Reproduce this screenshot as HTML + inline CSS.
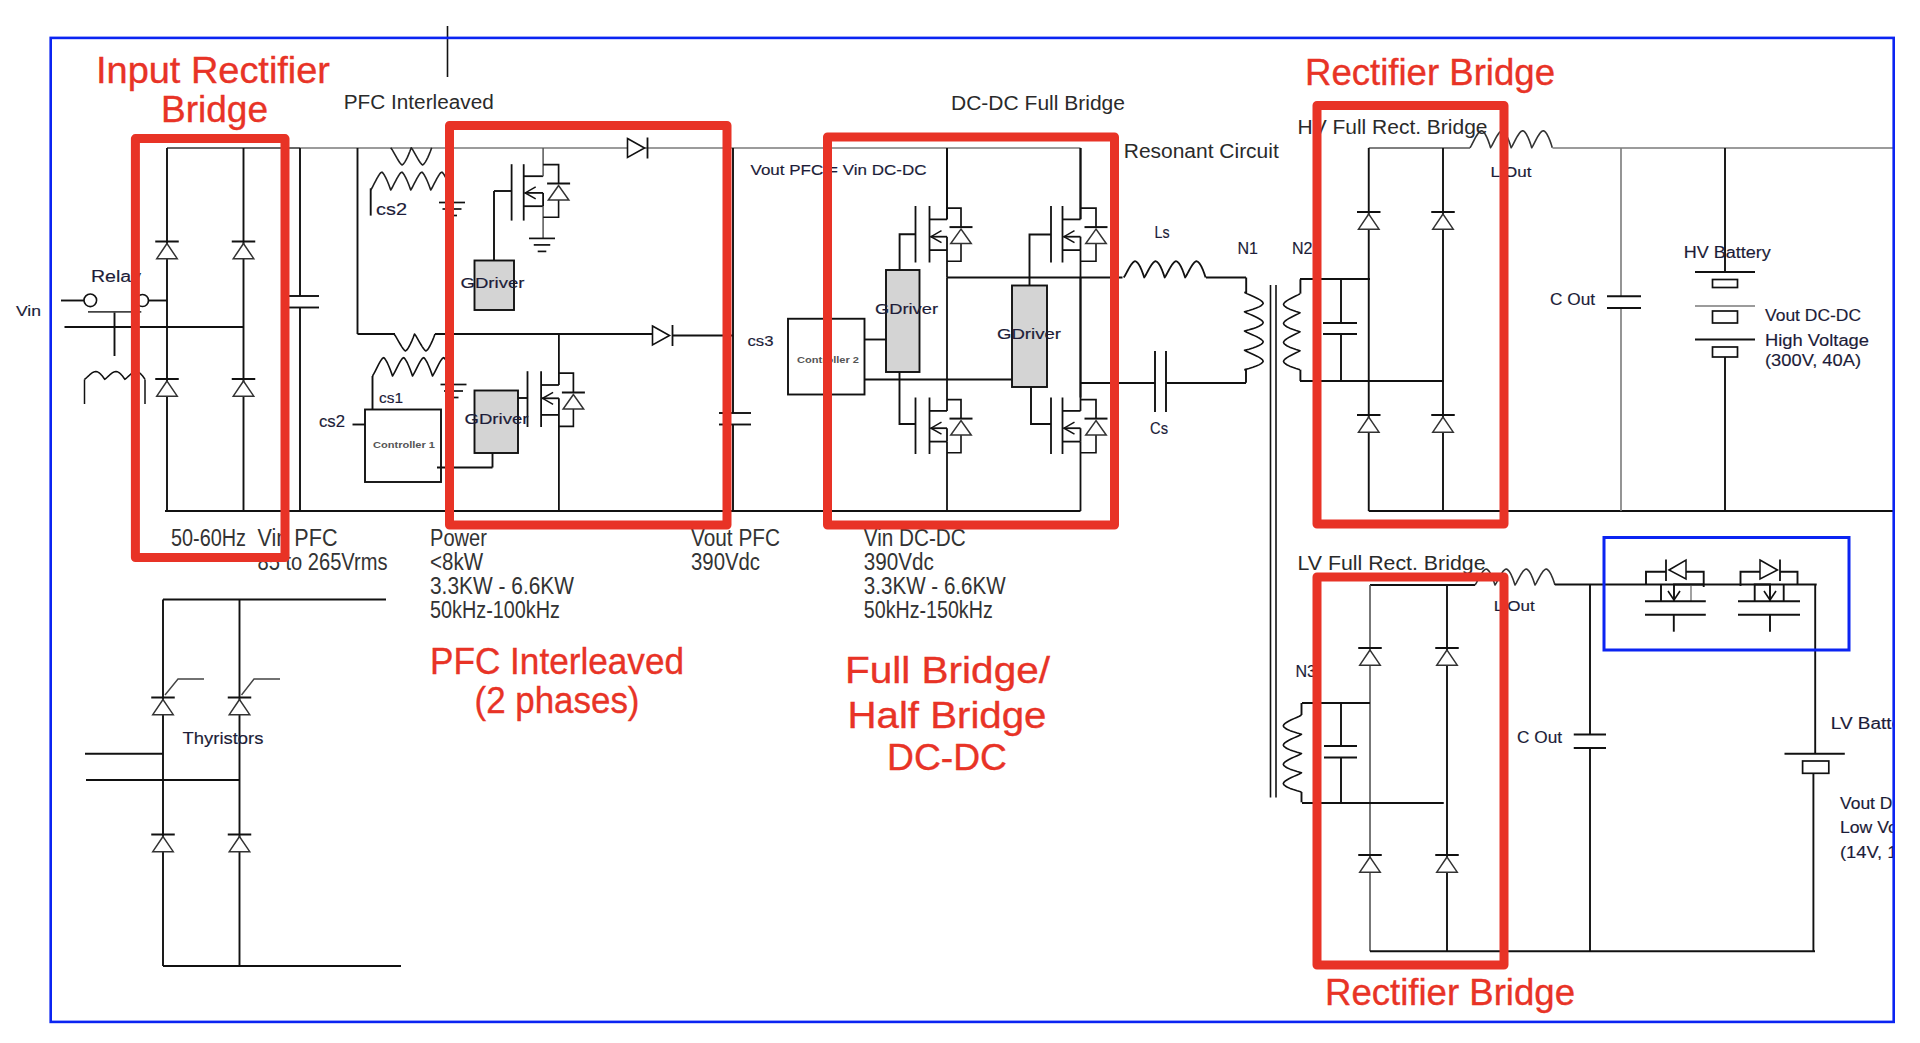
<!DOCTYPE html><html><head><meta charset="utf-8"><style>html,body{margin:0;padding:0;background:#fff;}svg{display:block;}text{font-family:"Liberation Sans",sans-serif;}</style></head><body>
<svg width="1920" height="1043" viewBox="0 0 1920 1043">
<rect x="0" y="0" width="1920" height="1043" fill="#fff"/>
<defs><clipPath id="frame"><rect x="0" y="0" width="1893" height="1043"/></clipPath></defs>
<g clip-path="url(#frame)">
<line x1="167" y1="148" x2="1080.5" y2="148" stroke="#7a7a7a" stroke-width="1.6"/>
<line x1="167" y1="148" x2="300" y2="148" stroke="#555" stroke-width="1.7"/>
<line x1="167" y1="148" x2="167" y2="511" stroke="#111" stroke-width="1.9"/>
<line x1="243.5" y1="148" x2="243.5" y2="511" stroke="#111" stroke-width="1.9"/>
<polygon points="167,243.5 156.75,258.7 177.25,258.7" stroke="#333" stroke-width="1.5" fill="#fff" stroke-linejoin="miter"/>
<line x1="155.25" y1="241.5" x2="178.75" y2="241.5" stroke="#111" stroke-width="2.0"/>
<polygon points="243.5,243.5 233.25,258.7 253.75,258.7" stroke="#333" stroke-width="1.5" fill="#fff" stroke-linejoin="miter"/>
<line x1="231.75" y1="241.5" x2="255.25" y2="241.5" stroke="#111" stroke-width="2.0"/>
<polygon points="167,381 156.75,396.2 177.25,396.2" stroke="#333" stroke-width="1.5" fill="#fff" stroke-linejoin="miter"/>
<line x1="155.25" y1="379" x2="178.75" y2="379" stroke="#111" stroke-width="2.0"/>
<polygon points="243.5,381 233.25,396.2 253.75,396.2" stroke="#333" stroke-width="1.5" fill="#fff" stroke-linejoin="miter"/>
<line x1="231.75" y1="379" x2="255.25" y2="379" stroke="#111" stroke-width="2.0"/>
<line x1="165" y1="511" x2="1080.5" y2="511" stroke="#111" stroke-width="1.9"/>
<line x1="64.5" y1="327" x2="243.5" y2="327" stroke="#111" stroke-width="1.9"/>
<line x1="61" y1="300.5" x2="84" y2="300.5" stroke="#111" stroke-width="1.9"/>
<circle cx="90.3" cy="300.3" r="6.3" stroke="#111" stroke-width="1.6" fill="#fff"/>
<circle cx="142.5" cy="300.5" r="6" stroke="#111" stroke-width="1.7" fill="#fff"/>
<line x1="148.5" y1="300.5" x2="167" y2="300.5" stroke="#111" stroke-width="1.9"/>
<line x1="88" y1="311.8" x2="141.3" y2="311.8" stroke="#444" stroke-width="1.7"/>
<line x1="114.5" y1="312.5" x2="114.5" y2="356" stroke="#111" stroke-width="1.9"/>
<line x1="84.5" y1="404" x2="84.5" y2="379.4" stroke="#111" stroke-width="1.5"/>
<polyline points="84.5,379.4 85.76,378.44 87.02,377.27 88.28,376.08 89.54,374.94 90.8,373.88 92.06,372.95 93.32,372.19 94.58,371.64 95.84,371.4 97.1,371.68 98.36,372.31 99.62,373.22 100.89,374.39 102.15,375.81 103.41,377.49 104.67,379.4 105.93,378.44 107.19,377.27 108.45,376.08 109.71,374.94 110.97,373.88 112.23,372.95 113.49,372.19 114.75,371.64 116.01,371.4 117.27,371.68 118.53,372.31 119.79,373.22 121.05,374.39 122.31,375.81 123.57,377.49 124.83,379.4 126.09,378.44 127.35,377.27 128.61,376.08 129.88,374.94 131.14,373.88 132.4,372.95 133.66,372.19 134.92,371.64 136.18,371.4 137.44,371.68 138.7,372.31 139.96,373.22 141.22,374.39 142.48,375.81 143.74,377.49 145.0,379.4" stroke="#111" stroke-width="1.5" fill="none" stroke-linejoin="round"/>
<line x1="145" y1="379.4" x2="145" y2="404" stroke="#111" stroke-width="1.5"/>
<text x="91" y="282.3" font-size="16" fill="#1c1c38" text-anchor="start" font-weight="normal" textLength="50" lengthAdjust="spacingAndGlyphs" stroke="#1c1c38" stroke-width="0.15">Relay</text>
<text x="16" y="316" font-size="15" fill="#1c1c38" text-anchor="start" font-weight="normal" textLength="25" lengthAdjust="spacingAndGlyphs" stroke="#1c1c38" stroke-width="0.15">Vin</text>
<line x1="300" y1="148" x2="300" y2="296" stroke="#111" stroke-width="1.9"/>
<line x1="300" y1="307.5" x2="300" y2="511" stroke="#111" stroke-width="1.9"/>
<line x1="289" y1="296" x2="319" y2="296" stroke="#111" stroke-width="1.9"/>
<line x1="289" y1="307.5" x2="319" y2="307.5" stroke="#111" stroke-width="1.9"/>
<line x1="357.5" y1="148" x2="357.5" y2="334" stroke="#111" stroke-width="1.9"/>
<line x1="357.5" y1="334" x2="395" y2="334" stroke="#111" stroke-width="1.9"/>
<polyline points="390.7,147.7 391.98,149.43 393.26,151.59 394.54,153.87 395.82,156.17 397.11,158.41 398.39,160.52 399.67,162.44 400.95,164.04 402.23,164.99 403.51,163.89 404.79,162.12 406.07,159.9 407.36,157.31 408.64,154.4 409.92,151.19 411.2,147.7 412.48,149.43 413.76,151.59 415.04,153.87 416.32,156.17 417.61,158.41 418.89,160.52 420.17,162.44 421.45,164.04 422.73,164.99 424.01,163.89 425.29,162.12 426.57,159.9 427.86,157.31 429.14,154.4 430.42,151.19 431.7,147.7" stroke="#222" stroke-width="1.6" fill="none" stroke-linejoin="round"/>
<line x1="370.7" y1="215.6" x2="370.7" y2="188.4" stroke="#111" stroke-width="1.9"/>
<polyline points="370.7,190.0 371.95,188.01 373.2,185.65 374.45,183.21 375.7,180.79 376.95,178.46 378.2,176.28 379.45,174.34 380.7,172.76 381.95,172.11 383.2,173.38 384.45,175.26 385.7,177.57 386.95,180.24 388.2,183.21 389.45,186.47 390.7,190.0 391.95,188.01 393.2,185.65 394.45,183.21 395.7,180.79 396.95,178.46 398.2,176.28 399.45,174.34 400.7,172.76 401.95,172.11 403.2,173.38 404.45,175.26 405.7,177.57 406.95,180.24 408.2,183.21 409.45,186.47 410.7,190.0 411.95,188.01 413.2,185.65 414.45,183.21 415.7,180.79 416.95,178.46 418.2,176.28 419.45,174.34 420.7,172.76 421.95,172.11 423.2,173.38 424.45,175.26 425.7,177.57 426.95,180.24 428.2,183.21 429.45,186.47 430.7,190.0 431.95,188.01 433.2,185.65 434.45,183.21 435.7,180.79 436.95,178.46 438.2,176.28 439.45,174.34 440.7,172.76 441.95,172.11 443.2,173.38 444.45,175.26 445.7,177.57 446.95,180.24 448.2,183.21 449.45,186.47 450.7,190.0" stroke="#222" stroke-width="1.6" fill="none" stroke-linejoin="round"/>
<text x="376" y="214.5" font-size="17" fill="#1c1c38" text-anchor="start" font-weight="normal" textLength="31" lengthAdjust="spacingAndGlyphs" stroke="#1c1c38" stroke-width="0.15">cs2</text>
<line x1="439.0" y1="202.5" x2="465.0" y2="202.5" stroke="#111" stroke-width="1.7"/>
<line x1="442.5" y1="209.0" x2="461.5" y2="209.0" stroke="#111" stroke-width="1.7"/>
<line x1="447.0" y1="215.5" x2="457.0" y2="215.5" stroke="#111" stroke-width="1.7"/>
<polyline points="394.0,334.0 395.28,335.7 396.56,337.83 397.84,340.07 399.12,342.32 400.41,344.52 401.69,346.6 402.97,348.48 404.25,350.06 405.53,350.99 406.81,349.91 408.09,348.17 409.38,345.99 410.66,343.44 411.94,340.58 413.22,337.43 414.5,334.0 415.78,335.7 417.06,337.83 418.34,340.07 419.62,342.32 420.91,344.52 422.19,346.6 423.47,348.48 424.75,350.06 426.03,350.99 427.31,349.91 428.59,348.17 429.88,345.99 431.16,343.44 432.44,340.58 433.72,337.43 435.0,334.0" stroke="#111" stroke-width="1.6" fill="none" stroke-linejoin="round"/>
<line x1="435" y1="334" x2="652.5" y2="334" stroke="#111" stroke-width="1.9"/>
<line x1="372.5" y1="409.5" x2="372.5" y2="376" stroke="#111" stroke-width="1.9"/>
<polyline points="372.5,376.0 373.75,373.95 375.0,371.53 376.25,369.02 377.5,366.53 378.75,364.14 380.0,361.9 381.25,359.91 382.5,358.28 383.75,357.61 385.0,358.92 386.25,360.85 387.5,363.23 388.75,365.96 390.0,369.02 391.25,372.38 392.5,376.0 393.75,373.95 395.0,371.53 396.25,369.02 397.5,366.53 398.75,364.14 400.0,361.9 401.25,359.91 402.5,358.28 403.75,357.61 405.0,358.92 406.25,360.85 407.5,363.23 408.75,365.96 410.0,369.02 411.25,372.38 412.5,376.0 413.75,373.95 415.0,371.53 416.25,369.02 417.5,366.53 418.75,364.14 420.0,361.9 421.25,359.91 422.5,358.28 423.75,357.61 425.0,358.92 426.25,360.85 427.5,363.23 428.75,365.96 430.0,369.02 431.25,372.38 432.5,376.0 433.75,373.95 435.0,371.53 436.25,369.02 437.5,366.53 438.75,364.14 440.0,361.9 441.25,359.91 442.5,358.28 443.75,357.61 445.0,358.92 446.25,360.85 447.5,363.23 448.75,365.96 450.0,369.02 451.25,372.38 452.5,376.0" stroke="#111" stroke-width="1.6" fill="none" stroke-linejoin="round"/>
<line x1="440.5" y1="384.5" x2="466.5" y2="384.5" stroke="#111" stroke-width="1.7"/>
<line x1="444.0" y1="391.0" x2="463.0" y2="391.0" stroke="#111" stroke-width="1.7"/>
<line x1="448.5" y1="397.5" x2="458.5" y2="397.5" stroke="#111" stroke-width="1.7"/>
<text x="379" y="402.5" font-size="15" fill="#1c1c38" text-anchor="start" font-weight="normal" textLength="24" lengthAdjust="spacingAndGlyphs" stroke="#1c1c38" stroke-width="0.15">cs1</text>
<text x="319" y="427" font-size="16" fill="#1c1c38" text-anchor="start" font-weight="normal" textLength="26" lengthAdjust="spacingAndGlyphs" stroke="#1c1c38" stroke-width="0.15">cs2</text>
<line x1="352.5" y1="424.5" x2="365" y2="424.5" stroke="#111" stroke-width="1.9"/>
<rect x="365" y="409.5" width="76" height="72.5" stroke="#111" stroke-width="1.9" fill="none"/>
<text x="373" y="448" font-size="8.5" fill="#555" text-anchor="start" font-weight="bold" textLength="62" lengthAdjust="spacingAndGlyphs">Controller 1</text>
<line x1="437" y1="467.5" x2="492.5" y2="467.5" stroke="#111" stroke-width="1.9"/>
<line x1="492.5" y1="467.5" x2="492.5" y2="453" stroke="#111" stroke-width="1.9"/>
<polygon points="627.5,138.5 644.5,148 627.5,157.5" stroke="#111" stroke-width="1.6" fill="#fff" stroke-linejoin="miter"/>
<line x1="647.5" y1="137.5" x2="647.5" y2="158.5" stroke="#111" stroke-width="1.8"/>
<polygon points="652.5,326.0 669.5,335.5 652.5,345.0" stroke="#111" stroke-width="1.6" fill="#fff" stroke-linejoin="miter"/>
<line x1="672.5" y1="325.0" x2="672.5" y2="346.0" stroke="#111" stroke-width="1.8"/>
<line x1="672.5" y1="335.5" x2="733" y2="335.5" stroke="#111" stroke-width="1.9"/>
<line x1="511.6" y1="164.2" x2="511.6" y2="220.6" stroke="#111" stroke-width="1.8"/>
<line x1="523.7" y1="164.2" x2="523.7" y2="220.6" stroke="#111" stroke-width="1.8"/>
<line x1="523.7" y1="176.2" x2="543.1" y2="176.2" stroke="#111" stroke-width="1.8"/>
<line x1="523.7" y1="206.2" x2="543.1" y2="206.2" stroke="#111" stroke-width="1.8"/>
<line x1="524.7" y1="192.89999999999998" x2="543.1" y2="192.89999999999998" stroke="#111" stroke-width="1.8"/>
<polyline points="535.7,186.89999999999998 525.2,192.89999999999998 535.7,198.89999999999998" stroke="#111" stroke-width="1.5" fill="none" stroke-linejoin="miter"/>
<line x1="543.1" y1="148" x2="543.1" y2="176.2" stroke="#555" stroke-width="1.5"/>
<line x1="543.1" y1="192.89999999999998" x2="543.1" y2="206.2" stroke="#111" stroke-width="1.8"/>
<line x1="543.1" y1="206.2" x2="543.1" y2="238.4" stroke="#555" stroke-width="1.5"/>
<polyline points="543.1,164.7 558.6,164.7 558.6,183.5" stroke="#111" stroke-width="1.7" fill="none" stroke-linejoin="miter"/>
<polyline points="558.6,199.5 558.6,217.29999999999998 543.1,217.29999999999998" stroke="#111" stroke-width="1.6" fill="none" stroke-linejoin="miter"/>
<polygon points="558.6,185.5 548.35,200.0 568.85,200.0" stroke="#333" stroke-width="1.5" fill="#fff" stroke-linejoin="miter"/>
<line x1="547.1" y1="183.5" x2="570.1" y2="183.5" stroke="#111" stroke-width="2.0"/>
<line x1="529.0" y1="238.4" x2="555.0" y2="238.4" stroke="#111" stroke-width="1.7"/>
<line x1="533.75" y1="244.9" x2="550.25" y2="244.9" stroke="#111" stroke-width="1.7"/>
<line x1="537.7" y1="251.4" x2="546.3" y2="251.4" stroke="#111" stroke-width="1.7"/>
<line x1="494" y1="191" x2="512" y2="191" stroke="#111" stroke-width="1.9"/>
<line x1="494" y1="191" x2="494" y2="260.5" stroke="#111" stroke-width="1.9"/>
<rect x="474.5" y="260.5" width="39.5" height="49.5" stroke="#111" stroke-width="1.9" fill="#d4d4d4"/>
<text x="460.5" y="287.5" font-size="14" fill="#1c1c38" text-anchor="start" font-weight="normal" textLength="64" lengthAdjust="spacingAndGlyphs" stroke="#1c1c38" stroke-width="0.15">GDriver</text>
<line x1="527.5" y1="371.2" x2="527.5" y2="427.0" stroke="#111" stroke-width="1.8"/>
<line x1="541.1" y1="371.2" x2="541.1" y2="427.0" stroke="#111" stroke-width="1.8"/>
<line x1="541.1" y1="385.0" x2="558.9" y2="385.0" stroke="#111" stroke-width="1.8"/>
<line x1="541.1" y1="414.9" x2="558.9" y2="414.9" stroke="#111" stroke-width="1.8"/>
<line x1="542.1" y1="398.3" x2="558.9" y2="398.3" stroke="#111" stroke-width="1.8"/>
<polyline points="553.1,392.3 542.6,398.3 553.1,404.3" stroke="#111" stroke-width="1.5" fill="none" stroke-linejoin="miter"/>
<line x1="558.9" y1="334" x2="558.9" y2="385.0" stroke="#111" stroke-width="1.8"/>
<line x1="558.9" y1="398.3" x2="558.9" y2="414.9" stroke="#111" stroke-width="1.8"/>
<line x1="558.9" y1="414.9" x2="558.9" y2="511" stroke="#111" stroke-width="1.8"/>
<polyline points="558.9,373.2 573.4,373.2 573.4,392.5" stroke="#111" stroke-width="1.7" fill="none" stroke-linejoin="miter"/>
<polyline points="573.4,408.5 573.4,426.4 558.9,426.4" stroke="#111" stroke-width="1.6" fill="none" stroke-linejoin="miter"/>
<polygon points="573.4,394.5 563.15,409.0 583.65,409.0" stroke="#333" stroke-width="1.5" fill="#fff" stroke-linejoin="miter"/>
<line x1="561.9" y1="392.5" x2="584.9" y2="392.5" stroke="#111" stroke-width="2.0"/>
<rect x="474.5" y="390.5" width="43.5" height="62.5" stroke="#111" stroke-width="1.9" fill="#d4d4d4"/>
<line x1="518" y1="398" x2="527.5" y2="398" stroke="#111" stroke-width="1.9"/>
<text x="464.5" y="424" font-size="14" fill="#1c1c38" text-anchor="start" font-weight="normal" textLength="64" lengthAdjust="spacingAndGlyphs" stroke="#1c1c38" stroke-width="0.15">GDriver</text>
<line x1="733" y1="148" x2="733" y2="413" stroke="#111" stroke-width="1.9"/>
<line x1="733" y1="424.5" x2="733" y2="511" stroke="#111" stroke-width="1.9"/>
<line x1="719" y1="413" x2="751" y2="413" stroke="#111" stroke-width="1.9"/>
<line x1="719" y1="424.5" x2="751" y2="424.5" stroke="#111" stroke-width="1.9"/>
<text x="747.5" y="346" font-size="15" fill="#1c1c38" text-anchor="start" font-weight="normal" textLength="26" lengthAdjust="spacingAndGlyphs" stroke="#1c1c38" stroke-width="0.15">cs3</text>
<line x1="447.5" y1="26" x2="447.5" y2="77" stroke="#111" stroke-width="1.6"/>
<text x="343.75" y="109" font-size="19.5" fill="#2a2a2a" text-anchor="start" font-weight="normal" textLength="150" lengthAdjust="spacingAndGlyphs">PFC Interleaved</text>
<line x1="947" y1="148" x2="947" y2="219" stroke="#111" stroke-width="1.9"/>
<line x1="1080.5" y1="148" x2="1080.5" y2="219" stroke="#111" stroke-width="1.9"/>
<line x1="915.5" y1="206" x2="915.5" y2="262.5" stroke="#111" stroke-width="1.8"/>
<line x1="929.5" y1="206" x2="929.5" y2="262.5" stroke="#111" stroke-width="1.8"/>
<line x1="929.5" y1="219.4" x2="947" y2="219.4" stroke="#111" stroke-width="1.8"/>
<line x1="929.5" y1="250.1" x2="947" y2="250.1" stroke="#111" stroke-width="1.8"/>
<line x1="930.5" y1="236.7" x2="947" y2="236.7" stroke="#111" stroke-width="1.8"/>
<polyline points="941.5,230.7 931.0,236.7 941.5,242.7" stroke="#111" stroke-width="1.5" fill="none" stroke-linejoin="miter"/>
<line x1="947" y1="148" x2="947" y2="219.4" stroke="#111" stroke-width="1.8"/>
<line x1="947" y1="236.7" x2="947" y2="250.1" stroke="#111" stroke-width="1.8"/>
<line x1="947" y1="250.1" x2="947" y2="277.5" stroke="#111" stroke-width="1.8"/>
<polyline points="947,208.2 961,208.2 961,227.1" stroke="#111" stroke-width="1.7" fill="none" stroke-linejoin="miter"/>
<polyline points="961,243.1 961,261.2 947,261.2" stroke="#111" stroke-width="1.6" fill="none" stroke-linejoin="miter"/>
<polygon points="961,229.1 950.75,243.6 971.25,243.6" stroke="#333" stroke-width="1.5" fill="#fff" stroke-linejoin="miter"/>
<line x1="949.5" y1="227.1" x2="972.5" y2="227.1" stroke="#111" stroke-width="2.0"/>
<line x1="1051.0" y1="206" x2="1051.0" y2="262.5" stroke="#111" stroke-width="1.8"/>
<line x1="1062.5" y1="206" x2="1062.5" y2="262.5" stroke="#111" stroke-width="1.8"/>
<line x1="1062.5" y1="219.4" x2="1080.5" y2="219.4" stroke="#111" stroke-width="1.8"/>
<line x1="1062.5" y1="250.1" x2="1080.5" y2="250.1" stroke="#111" stroke-width="1.8"/>
<line x1="1063.5" y1="236.7" x2="1080.5" y2="236.7" stroke="#111" stroke-width="1.8"/>
<polyline points="1074.5,230.7 1064.0,236.7 1074.5,242.7" stroke="#111" stroke-width="1.5" fill="none" stroke-linejoin="miter"/>
<line x1="1080.5" y1="148" x2="1080.5" y2="219.4" stroke="#111" stroke-width="1.8"/>
<line x1="1080.5" y1="236.7" x2="1080.5" y2="250.1" stroke="#111" stroke-width="1.8"/>
<line x1="1080.5" y1="250.1" x2="1080.5" y2="277.5" stroke="#111" stroke-width="1.8"/>
<polyline points="1080.5,208.2 1096.0,208.2 1096.0,227.1" stroke="#111" stroke-width="1.7" fill="none" stroke-linejoin="miter"/>
<polyline points="1096.0,243.1 1096.0,261.2 1080.5,261.2" stroke="#111" stroke-width="1.6" fill="none" stroke-linejoin="miter"/>
<polygon points="1096.0,229.1 1085.75,243.6 1106.25,243.6" stroke="#333" stroke-width="1.5" fill="#fff" stroke-linejoin="miter"/>
<line x1="1084.5" y1="227.1" x2="1107.5" y2="227.1" stroke="#111" stroke-width="2.0"/>
<line x1="947" y1="277.5" x2="1122.5" y2="277.5" stroke="#111" stroke-width="1.9"/>
<line x1="1080.5" y1="277.5" x2="1080.5" y2="397.5" stroke="#111" stroke-width="1.9"/>
<line x1="915.5" y1="397.5" x2="915.5" y2="454.0" stroke="#111" stroke-width="1.8"/>
<line x1="929.5" y1="397.5" x2="929.5" y2="454.0" stroke="#111" stroke-width="1.8"/>
<line x1="929.5" y1="410.9" x2="947" y2="410.9" stroke="#111" stroke-width="1.8"/>
<line x1="929.5" y1="441.6" x2="947" y2="441.6" stroke="#111" stroke-width="1.8"/>
<line x1="930.5" y1="428.2" x2="947" y2="428.2" stroke="#111" stroke-width="1.8"/>
<polyline points="941.5,422.2 931.0,428.2 941.5,434.2" stroke="#111" stroke-width="1.5" fill="none" stroke-linejoin="miter"/>
<line x1="947" y1="277.5" x2="947" y2="410.9" stroke="#111" stroke-width="1.8"/>
<line x1="947" y1="428.2" x2="947" y2="441.6" stroke="#111" stroke-width="1.8"/>
<line x1="947" y1="441.6" x2="947" y2="511" stroke="#111" stroke-width="1.8"/>
<polyline points="947,399.7 961,399.7 961,418.6" stroke="#111" stroke-width="1.7" fill="none" stroke-linejoin="miter"/>
<polyline points="961,434.6 961,452.7 947,452.7" stroke="#111" stroke-width="1.6" fill="none" stroke-linejoin="miter"/>
<polygon points="961,420.6 950.75,435.1 971.25,435.1" stroke="#333" stroke-width="1.5" fill="#fff" stroke-linejoin="miter"/>
<line x1="949.5" y1="418.6" x2="972.5" y2="418.6" stroke="#111" stroke-width="2.0"/>
<line x1="1051.0" y1="397.5" x2="1051.0" y2="454.0" stroke="#111" stroke-width="1.8"/>
<line x1="1062.5" y1="397.5" x2="1062.5" y2="454.0" stroke="#111" stroke-width="1.8"/>
<line x1="1062.5" y1="410.9" x2="1080.5" y2="410.9" stroke="#111" stroke-width="1.8"/>
<line x1="1062.5" y1="441.6" x2="1080.5" y2="441.6" stroke="#111" stroke-width="1.8"/>
<line x1="1063.5" y1="428.2" x2="1080.5" y2="428.2" stroke="#111" stroke-width="1.8"/>
<polyline points="1074.5,422.2 1064.0,428.2 1074.5,434.2" stroke="#111" stroke-width="1.5" fill="none" stroke-linejoin="miter"/>
<line x1="1080.5" y1="277.5" x2="1080.5" y2="410.9" stroke="#111" stroke-width="1.8"/>
<line x1="1080.5" y1="428.2" x2="1080.5" y2="441.6" stroke="#111" stroke-width="1.8"/>
<line x1="1080.5" y1="441.6" x2="1080.5" y2="511" stroke="#111" stroke-width="1.8"/>
<polyline points="1080.5,399.7 1096.0,399.7 1096.0,418.6" stroke="#111" stroke-width="1.7" fill="none" stroke-linejoin="miter"/>
<polyline points="1096.0,434.6 1096.0,452.7 1080.5,452.7" stroke="#111" stroke-width="1.6" fill="none" stroke-linejoin="miter"/>
<polygon points="1096.0,420.6 1085.75,435.1 1106.25,435.1" stroke="#333" stroke-width="1.5" fill="#fff" stroke-linejoin="miter"/>
<line x1="1084.5" y1="418.6" x2="1107.5" y2="418.6" stroke="#111" stroke-width="2.0"/>
<polyline points="915.4,234.3 899.6,234.3 899.6,270" stroke="#111" stroke-width="1.9" fill="none" stroke-linejoin="miter"/>
<polyline points="1051,234.5 1029.5,234.5 1029.5,285.5" stroke="#111" stroke-width="1.9" fill="none" stroke-linejoin="miter"/>
<polyline points="899.5,372 899.5,424 915.5,424" stroke="#111" stroke-width="1.9" fill="none" stroke-linejoin="miter"/>
<polyline points="1031,387 1031,424 1051,424" stroke="#111" stroke-width="1.9" fill="none" stroke-linejoin="miter"/>
<rect x="886" y="270" width="33.5" height="102" stroke="#111" stroke-width="1.9" fill="#d4d4d4"/>
<rect x="1012" y="285.5" width="35" height="101.5" stroke="#111" stroke-width="1.9" fill="#d4d4d4"/>
<text x="875" y="314" font-size="14" fill="#1c1c38" text-anchor="start" font-weight="normal" textLength="63" lengthAdjust="spacingAndGlyphs" stroke="#1c1c38" stroke-width="0.15">GDriver</text>
<text x="997" y="339" font-size="14" fill="#1c1c38" text-anchor="start" font-weight="normal" textLength="64" lengthAdjust="spacingAndGlyphs" stroke="#1c1c38" stroke-width="0.15">GDriver</text>
<rect x="788" y="318.75" width="76.5" height="75.75" stroke="#111" stroke-width="1.9" fill="#fff"/>
<text x="797" y="363" font-size="8.5" fill="#555" text-anchor="start" font-weight="bold" textLength="62" lengthAdjust="spacingAndGlyphs">Controller 2</text>
<line x1="864.5" y1="339.5" x2="886" y2="339.5" stroke="#111" stroke-width="1.9"/>
<line x1="864.5" y1="379.5" x2="1012" y2="379.5" stroke="#111" stroke-width="1.9"/>
<text x="750.5" y="175" font-size="14" fill="#1c1c38" text-anchor="start" font-weight="normal" textLength="176" lengthAdjust="spacingAndGlyphs" stroke="#1c1c38" stroke-width="0.15">Vout PFC = Vin DC-DC</text>
<text x="951" y="109.5" font-size="20" fill="#2a2a2a" text-anchor="start" font-weight="normal" textLength="174" lengthAdjust="spacingAndGlyphs">DC-DC Full Bridge</text>
<text x="1123.75" y="157.5" font-size="19.5" fill="#2a2a2a" text-anchor="start" font-weight="normal" textLength="155" lengthAdjust="spacingAndGlyphs">Resonant Circuit</text>
<line x1="1080.5" y1="383" x2="1155" y2="383" stroke="#111" stroke-width="1.9"/>
<line x1="1166" y1="383" x2="1246" y2="383" stroke="#111" stroke-width="1.9"/>
<line x1="1155" y1="351" x2="1155" y2="412" stroke="#111" stroke-width="1.9"/>
<line x1="1166" y1="351" x2="1166" y2="412" stroke="#111" stroke-width="1.9"/>
<text x="1150" y="434" font-size="16" fill="#1c1c38" text-anchor="start" font-weight="normal" textLength="18" lengthAdjust="spacingAndGlyphs" stroke="#1c1c38" stroke-width="0.15">Cs</text>
<polyline points="1123.75,277.5 1125.03,275.54 1126.31,273.16 1127.59,270.74 1128.87,268.41 1130.14,266.25 1131.42,264.36 1132.7,262.8 1133.98,261.69 1135.26,261.2 1136.54,261.78 1137.82,263.05 1139.1,264.9 1140.38,267.29 1141.65,270.2 1142.93,273.6 1144.21,277.5 1145.49,275.54 1146.77,273.16 1148.05,270.74 1149.33,268.41 1150.61,266.25 1151.89,264.36 1153.16,262.8 1154.44,261.69 1155.72,261.2 1157.0,261.78 1158.28,263.05 1159.56,264.9 1160.84,267.29 1162.12,270.2 1163.4,273.6 1164.67,277.5 1165.95,275.54 1167.23,273.16 1168.51,270.74 1169.79,268.41 1171.07,266.25 1172.35,264.36 1173.63,262.8 1174.91,261.69 1176.19,261.2 1177.46,261.78 1178.74,263.05 1180.02,264.9 1181.3,267.29 1182.58,270.2 1183.86,273.6 1185.14,277.5 1186.42,275.54 1187.7,273.16 1188.97,270.74 1190.25,268.41 1191.53,266.25 1192.81,264.36 1194.09,262.8 1195.37,261.69 1196.65,261.2 1197.93,261.78 1199.21,263.05 1200.48,264.9 1201.76,267.29 1203.04,270.2 1204.32,273.6 1205.6,277.5" stroke="#111" stroke-width="1.8" fill="none" stroke-linejoin="round"/>
<text x="1154.5" y="237.5" font-size="16" fill="#1c1c38" text-anchor="start" font-weight="normal" textLength="15" lengthAdjust="spacingAndGlyphs" stroke="#1c1c38" stroke-width="0.15">Ls</text>
<line x1="1206" y1="277.5" x2="1246" y2="277.5" stroke="#111" stroke-width="1.9"/>
<polyline points="1246.2,277.5 1246.2,292.4 1244.5,292.4" stroke="#111" stroke-width="1.9" fill="none" stroke-linejoin="miter"/>
<polyline points="1244.5,292.4 1246.75,293.61 1249.48,294.82 1252.26,296.02 1254.93,297.23 1257.4,298.44 1259.58,299.65 1261.36,300.85 1262.64,302.06 1263.2,303.27 1262.54,304.48 1261.08,305.69 1258.96,306.89 1256.21,308.1 1252.88,309.31 1248.97,310.52 1244.5,311.72 1246.75,312.93 1249.48,314.14 1252.26,315.35 1254.93,316.56 1257.4,317.76 1259.58,318.97 1261.36,320.18 1262.64,321.39 1263.2,322.6 1262.54,323.8 1261.08,325.01 1258.96,326.22 1256.21,327.43 1252.88,328.63 1248.97,329.84 1244.5,331.05 1246.75,332.26 1249.48,333.47 1252.26,334.67 1254.93,335.88 1257.4,337.09 1259.58,338.3 1261.36,339.5 1262.64,340.71 1263.2,341.92 1262.54,343.13 1261.08,344.34 1258.96,345.54 1256.21,346.75 1252.88,347.96 1248.97,349.17 1244.5,350.38 1246.75,351.58 1249.48,352.79 1252.26,354.0 1254.93,355.21 1257.4,356.41 1259.58,357.62 1261.36,358.83 1262.64,360.04 1263.2,361.25 1262.54,362.45 1261.08,363.66 1258.96,364.87 1256.21,366.08 1252.88,367.28 1248.97,368.49 1244.5,369.7" stroke="#111" stroke-width="1.6" fill="none" stroke-linejoin="round"/>
<polyline points="1244.5,369.7 1246,369.7 1246,382.8" stroke="#111" stroke-width="1.9" fill="none" stroke-linejoin="miter"/>
<line x1="1270.5" y1="285" x2="1270.5" y2="797.5" stroke="#111" stroke-width="1.6"/>
<line x1="1276" y1="285" x2="1276" y2="797.5" stroke="#111" stroke-width="1.6"/>
<text x="1237.5" y="253.75" font-size="16.5" fill="#1c1c38" text-anchor="start" font-weight="normal" textLength="20.5" lengthAdjust="spacingAndGlyphs" stroke="#1c1c38" stroke-width="0.15">N1</text>
<text x="1292" y="253.75" font-size="16.5" fill="#1c1c38" text-anchor="start" font-weight="normal" textLength="20.5" lengthAdjust="spacingAndGlyphs" stroke="#1c1c38" stroke-width="0.15">N2</text>
<line x1="1300.4" y1="279.3" x2="1300.4" y2="293.7" stroke="#111" stroke-width="1.9"/>
<polyline points="1300.0,293.7 1298.01,294.89 1295.61,296.07 1293.16,297.26 1290.79,298.45 1288.61,299.64 1286.7,300.82 1285.12,302.01 1283.99,303.2 1283.5,304.39 1284.09,305.57 1285.37,306.76 1287.25,307.95 1289.66,309.14 1292.61,310.32 1296.05,311.51 1300.0,312.7 1298.01,313.89 1295.61,315.07 1293.16,316.26 1290.79,317.45 1288.61,318.64 1286.7,319.82 1285.12,321.01 1283.99,322.2 1283.5,323.39 1284.09,324.57 1285.37,325.76 1287.25,326.95 1289.66,328.14 1292.61,329.32 1296.05,330.51 1300.0,331.7 1298.01,332.89 1295.61,334.07 1293.16,335.26 1290.79,336.45 1288.61,337.64 1286.7,338.82 1285.12,340.01 1283.99,341.2 1283.5,342.39 1284.09,343.57 1285.37,344.76 1287.25,345.95 1289.66,347.14 1292.61,348.32 1296.05,349.51 1300.0,350.7 1298.01,351.89 1295.61,353.07 1293.16,354.26 1290.79,355.45 1288.61,356.64 1286.7,357.82 1285.12,359.01 1283.99,360.2 1283.5,361.39 1284.09,362.57 1285.37,363.76 1287.25,364.95 1289.66,366.14 1292.61,367.32 1296.05,368.51 1300.0,369.7" stroke="#111" stroke-width="1.6" fill="none" stroke-linejoin="round"/>
<line x1="1300.4" y1="369.7" x2="1300.4" y2="381" stroke="#111" stroke-width="1.9"/>
<line x1="1300" y1="279" x2="1370" y2="279" stroke="#111" stroke-width="1.9"/>
<line x1="1300" y1="381" x2="1443.75" y2="381" stroke="#111" stroke-width="1.9"/>
<line x1="1341" y1="279" x2="1341" y2="323" stroke="#111" stroke-width="1.9"/>
<line x1="1341" y1="334" x2="1341" y2="381" stroke="#111" stroke-width="1.9"/>
<line x1="1323" y1="323" x2="1357" y2="323" stroke="#111" stroke-width="1.9"/>
<line x1="1323" y1="334" x2="1357" y2="334" stroke="#111" stroke-width="1.9"/>
<line x1="1368.75" y1="148" x2="1470" y2="148" stroke="#555" stroke-width="1.6"/>
<line x1="1368.75" y1="148" x2="1368.75" y2="511" stroke="#111" stroke-width="1.9"/>
<line x1="1443" y1="148" x2="1443" y2="511" stroke="#111" stroke-width="1.9"/>
<polygon points="1368.75,214 1358.5,229.2 1379.0,229.2" stroke="#333" stroke-width="1.5" fill="#fff" stroke-linejoin="miter"/>
<line x1="1357.0" y1="212" x2="1380.5" y2="212" stroke="#111" stroke-width="2.0"/>
<polygon points="1443,214 1432.75,229.2 1453.25,229.2" stroke="#333" stroke-width="1.5" fill="#fff" stroke-linejoin="miter"/>
<line x1="1431.25" y1="212" x2="1454.75" y2="212" stroke="#111" stroke-width="2.0"/>
<polygon points="1368.75,417 1358.5,432.2 1379.0,432.2" stroke="#333" stroke-width="1.5" fill="#fff" stroke-linejoin="miter"/>
<line x1="1357.0" y1="415" x2="1380.5" y2="415" stroke="#111" stroke-width="2.0"/>
<polygon points="1443,417 1432.75,432.2 1453.25,432.2" stroke="#333" stroke-width="1.5" fill="#fff" stroke-linejoin="miter"/>
<line x1="1431.25" y1="415" x2="1454.75" y2="415" stroke="#111" stroke-width="2.0"/>
<line x1="1368.75" y1="511" x2="1893" y2="511" stroke="#111" stroke-width="1.9"/>
<polyline points="1470.0,147.7 1471.29,145.65 1472.57,143.17 1473.86,140.65 1475.14,138.22 1476.43,135.97 1477.72,133.99 1479.0,132.37 1480.29,131.21 1481.57,130.7 1482.86,131.3 1484.15,132.63 1485.43,134.56 1486.72,137.05 1488.0,140.08 1489.29,143.63 1490.58,147.7 1491.86,145.65 1493.15,143.17 1494.43,140.65 1495.72,138.22 1497.0,135.97 1498.29,133.99 1499.58,132.37 1500.86,131.21 1502.15,130.7 1503.43,131.3 1504.72,132.63 1506.01,134.56 1507.29,137.05 1508.58,140.08 1509.86,143.63 1511.15,147.7 1512.44,145.65 1513.72,143.17 1515.01,140.65 1516.29,138.22 1517.58,135.97 1518.87,133.99 1520.15,132.37 1521.44,131.21 1522.72,130.7 1524.01,131.3 1525.3,132.63 1526.58,134.56 1527.87,137.05 1529.15,140.08 1530.44,143.63 1531.72,147.7 1533.01,145.65 1534.3,143.17 1535.58,140.65 1536.87,138.22 1538.15,135.97 1539.44,133.99 1540.73,132.37 1542.01,131.21 1543.3,130.7 1544.58,131.3 1545.87,132.63 1547.16,134.56 1548.44,137.05 1549.73,140.08 1551.01,143.63 1552.3,147.7" stroke="#333" stroke-width="1.6" fill="none" stroke-linejoin="round"/>
<line x1="1552.5" y1="148" x2="1893" y2="148" stroke="#7a7a7a" stroke-width="1.6"/>
<text x="1297.5" y="133.75" font-size="20" fill="#2a2a2a" text-anchor="start" font-weight="normal" textLength="190" lengthAdjust="spacingAndGlyphs">HV Full Rect. Bridge</text>
<text x="1490.5" y="177" font-size="15" fill="#1c1c38" text-anchor="start" font-weight="normal" textLength="41" lengthAdjust="spacingAndGlyphs" stroke="#1c1c38" stroke-width="0.15">L Out</text>
<line x1="1621" y1="148" x2="1621" y2="296.25" stroke="#7a7a7a" stroke-width="1.6"/>
<line x1="1621" y1="308" x2="1621" y2="511" stroke="#7a7a7a" stroke-width="1.6"/>
<line x1="1607" y1="296.25" x2="1641" y2="296.25" stroke="#111" stroke-width="1.9"/>
<line x1="1607" y1="308" x2="1641" y2="308" stroke="#111" stroke-width="1.9"/>
<text x="1550" y="304.5" font-size="16" fill="#1c1c38" text-anchor="start" font-weight="normal" textLength="45" lengthAdjust="spacingAndGlyphs" stroke="#1c1c38" stroke-width="0.15">C Out</text>
<line x1="1725" y1="148" x2="1725" y2="272" stroke="#111" stroke-width="1.9"/>
<line x1="1695" y1="272" x2="1755" y2="272" stroke="#111" stroke-width="1.9"/>
<rect x="1712.5" y="279.5" width="25" height="8" stroke="#111" stroke-width="1.7" fill="none"/>
<line x1="1695" y1="306" x2="1755" y2="306" stroke="#7a7a7a" stroke-width="1.5"/>
<rect x="1712.5" y="311" width="25" height="12" stroke="#111" stroke-width="1.7" fill="none"/>
<line x1="1695" y1="339.5" x2="1755" y2="339.5" stroke="#111" stroke-width="1.9"/>
<rect x="1712.5" y="347" width="25" height="10" stroke="#111" stroke-width="1.7" fill="none"/>
<line x1="1725" y1="357" x2="1725" y2="511" stroke="#111" stroke-width="1.9"/>
<text x="1683.75" y="258" font-size="16" fill="#1c1c38" text-anchor="start" font-weight="normal" textLength="87" lengthAdjust="spacingAndGlyphs" stroke="#1c1c38" stroke-width="0.15">HV Battery</text>
<text x="1765" y="321" font-size="16" fill="#1c1c38" text-anchor="start" font-weight="normal" textLength="96" lengthAdjust="spacingAndGlyphs" stroke="#1c1c38" stroke-width="0.15">Vout DC-DC</text>
<text x="1765" y="346" font-size="16" fill="#1c1c38" text-anchor="start" font-weight="normal" textLength="104" lengthAdjust="spacingAndGlyphs" stroke="#1c1c38" stroke-width="0.15">High Voltage</text>
<text x="1765" y="366" font-size="16" fill="#1c1c38" text-anchor="start" font-weight="normal" textLength="96" lengthAdjust="spacingAndGlyphs" stroke="#1c1c38" stroke-width="0.15">(300V, 40A)</text>
<text x="1297.5" y="570" font-size="20" fill="#2a2a2a" text-anchor="start" font-weight="normal" textLength="188" lengthAdjust="spacingAndGlyphs">LV Full Rect. Bridge</text>
<line x1="1370" y1="585" x2="1475" y2="585" stroke="#111" stroke-width="1.9"/>
<polyline points="1475.0,585.0 1476.25,583.07 1477.5,580.74 1478.75,578.36 1480.0,576.07 1481.25,573.96 1482.5,572.1 1483.75,570.57 1485.0,569.48 1486.25,569.0 1487.5,569.57 1488.75,570.81 1490.0,572.63 1491.25,574.98 1492.5,577.83 1493.75,581.17 1495.0,585.0 1496.25,583.07 1497.5,580.74 1498.75,578.36 1500.0,576.07 1501.25,573.96 1502.5,572.1 1503.75,570.57 1505.0,569.48 1506.25,569.0 1507.5,569.57 1508.75,570.81 1510.0,572.63 1511.25,574.98 1512.5,577.83 1513.75,581.17 1515.0,585.0 1516.25,583.07 1517.5,580.74 1518.75,578.36 1520.0,576.07 1521.25,573.96 1522.5,572.1 1523.75,570.57 1525.0,569.48 1526.25,569.0 1527.5,569.57 1528.75,570.81 1530.0,572.63 1531.25,574.98 1532.5,577.83 1533.75,581.17 1535.0,585.0 1536.25,583.07 1537.5,580.74 1538.75,578.36 1540.0,576.07 1541.25,573.96 1542.5,572.1 1543.75,570.57 1545.0,569.48 1546.25,569.0 1547.5,569.57 1548.75,570.81 1550.0,572.63 1551.25,574.98 1552.5,577.83 1553.75,581.17 1555.0,585.0" stroke="#333" stroke-width="1.6" fill="none" stroke-linejoin="round"/>
<line x1="1555" y1="584.5" x2="1816.7" y2="584.5" stroke="#111" stroke-width="1.9"/>
<line x1="1370" y1="585" x2="1370" y2="951.25" stroke="#555" stroke-width="1.6"/>
<line x1="1447" y1="585" x2="1447" y2="951.25" stroke="#111" stroke-width="1.9"/>
<polygon points="1370,650 1359.75,665.2 1380.25,665.2" stroke="#333" stroke-width="1.5" fill="#fff" stroke-linejoin="miter"/>
<line x1="1358.25" y1="648" x2="1381.75" y2="648" stroke="#111" stroke-width="2.0"/>
<polygon points="1447,650 1436.75,665.2 1457.25,665.2" stroke="#333" stroke-width="1.5" fill="#fff" stroke-linejoin="miter"/>
<line x1="1435.25" y1="648" x2="1458.75" y2="648" stroke="#111" stroke-width="2.0"/>
<polygon points="1370,857 1359.75,872.2 1380.25,872.2" stroke="#333" stroke-width="1.5" fill="#fff" stroke-linejoin="miter"/>
<line x1="1358.25" y1="855" x2="1381.75" y2="855" stroke="#111" stroke-width="2.0"/>
<polygon points="1447,857 1436.75,872.2 1457.25,872.2" stroke="#333" stroke-width="1.5" fill="#fff" stroke-linejoin="miter"/>
<line x1="1435.25" y1="855" x2="1458.75" y2="855" stroke="#111" stroke-width="2.0"/>
<line x1="1370" y1="951.25" x2="1815" y2="951.25" stroke="#111" stroke-width="1.9"/>
<text x="1295.4" y="677" font-size="16.5" fill="#1c1c38" text-anchor="start" font-weight="normal" textLength="20.5" lengthAdjust="spacingAndGlyphs" stroke="#1c1c38" stroke-width="0.15">N3</text>
<text x="1493.75" y="611" font-size="15" fill="#1c1c38" text-anchor="start" font-weight="normal" textLength="41" lengthAdjust="spacingAndGlyphs" stroke="#1c1c38" stroke-width="0.15">L Out</text>
<line x1="1301.5" y1="703" x2="1301.5" y2="715" stroke="#111" stroke-width="1.9"/>
<polyline points="1301.5,715.0 1299.31,716.2 1296.65,717.41 1293.95,718.61 1291.35,719.81 1288.94,721.02 1286.83,722.22 1285.09,723.42 1283.84,724.62 1283.3,725.83 1283.95,727.03 1285.36,728.23 1287.43,729.44 1290.1,730.64 1293.34,731.84 1297.15,733.05 1301.5,734.25 1299.31,735.45 1296.65,736.66 1293.95,737.86 1291.35,739.06 1288.94,740.27 1286.83,741.47 1285.09,742.67 1283.84,743.88 1283.3,745.08 1283.95,746.28 1285.36,747.48 1287.43,748.69 1290.1,749.89 1293.34,751.09 1297.15,752.3 1301.5,753.5 1299.31,754.7 1296.65,755.91 1293.95,757.11 1291.35,758.31 1288.94,759.52 1286.83,760.72 1285.09,761.92 1283.84,763.12 1283.3,764.33 1283.95,765.53 1285.36,766.73 1287.43,767.94 1290.1,769.14 1293.34,770.34 1297.15,771.55 1301.5,772.75 1299.31,773.95 1296.65,775.16 1293.95,776.36 1291.35,777.56 1288.94,778.77 1286.83,779.97 1285.09,781.17 1283.84,782.38 1283.3,783.58 1283.95,784.78 1285.36,785.98 1287.43,787.19 1290.1,788.39 1293.34,789.59 1297.15,790.8 1301.5,792.0" stroke="#111" stroke-width="1.6" fill="none" stroke-linejoin="round"/>
<line x1="1301.5" y1="792" x2="1301.5" y2="802.3" stroke="#111" stroke-width="1.9"/>
<line x1="1302" y1="703" x2="1370" y2="703" stroke="#111" stroke-width="1.9"/>
<line x1="1302" y1="803" x2="1443.75" y2="803" stroke="#111" stroke-width="1.9"/>
<line x1="1341" y1="703" x2="1341" y2="746" stroke="#111" stroke-width="1.9"/>
<line x1="1341" y1="757.5" x2="1341" y2="803" stroke="#111" stroke-width="1.9"/>
<line x1="1324" y1="746" x2="1357" y2="746" stroke="#111" stroke-width="1.9"/>
<line x1="1324" y1="757.5" x2="1357" y2="757.5" stroke="#111" stroke-width="1.9"/>
<line x1="1590" y1="584.5" x2="1590" y2="734.5" stroke="#111" stroke-width="1.9"/>
<line x1="1590" y1="748" x2="1590" y2="951.25" stroke="#111" stroke-width="1.9"/>
<line x1="1573.75" y1="734.5" x2="1606" y2="734.5" stroke="#111" stroke-width="1.9"/>
<line x1="1573.75" y1="748" x2="1606" y2="748" stroke="#111" stroke-width="1.9"/>
<text x="1517" y="742.5" font-size="16" fill="#1c1c38" text-anchor="start" font-weight="normal" textLength="45" lengthAdjust="spacingAndGlyphs" stroke="#1c1c38" stroke-width="0.15">C Out</text>
<line x1="1815.2" y1="584.5" x2="1815.2" y2="753.8" stroke="#111" stroke-width="1.9"/>
<line x1="1784.5" y1="753.8" x2="1844.8" y2="753.8" stroke="#111" stroke-width="1.9"/>
<rect x="1802.6" y="761" width="26.2" height="12.3" stroke="#111" stroke-width="1.7" fill="none"/>
<line x1="1813.4" y1="773.3" x2="1813.4" y2="951" stroke="#111" stroke-width="1.9"/>
<text x="1830.8" y="728.7" font-size="16" fill="#1c1c38" text-anchor="start" font-weight="normal" textLength="87" lengthAdjust="spacingAndGlyphs" stroke="#1c1c38" stroke-width="0.15">LV Battery</text>
<text x="1840" y="808.8" font-size="16" fill="#1c1c38" text-anchor="start" font-weight="normal" textLength="96" lengthAdjust="spacingAndGlyphs" stroke="#1c1c38" stroke-width="0.15">Vout DC-DC</text>
<text x="1840" y="833.2" font-size="16" fill="#1c1c38" text-anchor="start" font-weight="normal" textLength="96" lengthAdjust="spacingAndGlyphs" stroke="#1c1c38" stroke-width="0.15">Low Voltage</text>
<text x="1840" y="857.6" font-size="16" fill="#1c1c38" text-anchor="start" font-weight="normal" textLength="96" lengthAdjust="spacingAndGlyphs" stroke="#1c1c38" stroke-width="0.15">(14V, 150A)</text>
<polyline points="1646,584.5 1646,571.7 1666,571.7" stroke="#111" stroke-width="1.9" fill="none" stroke-linejoin="miter"/>
<line x1="1666" y1="559.5" x2="1666" y2="581" stroke="#111" stroke-width="1.8"/>
<polygon points="1669,570 1686,560 1686,579" stroke="#111" stroke-width="1.5" fill="#fff" stroke-linejoin="miter"/>
<polyline points="1686,571.7 1703.7,571.7 1703.7,587" stroke="#111" stroke-width="1.9" fill="none" stroke-linejoin="miter"/>
<polyline points="1661,584.5 1661,601.3" stroke="#111" stroke-width="1.9" fill="none" stroke-linejoin="miter"/>
<polyline points="1674,601.3 1674,584.5 1703.7,584.5" stroke="#111" stroke-width="1.9" fill="none" stroke-linejoin="miter"/>
<line x1="1691" y1="586" x2="1691" y2="601.3" stroke="#7a7a7a" stroke-width="1.4"/>
<polyline points="1668,591 1674,600 1680,591" stroke="#111" stroke-width="1.6" fill="none" stroke-linejoin="miter"/>
<line x1="1645" y1="601.3" x2="1705.8" y2="601.3" stroke="#111" stroke-width="1.9"/>
<line x1="1645" y1="614.7" x2="1705.8" y2="614.7" stroke="#111" stroke-width="1.9"/>
<line x1="1673.8" y1="614.7" x2="1673.8" y2="631.7" stroke="#111" stroke-width="1.9"/>
<polyline points="1740.5,586 1740.5,571.7 1760,571.7" stroke="#111" stroke-width="1.9" fill="none" stroke-linejoin="miter"/>
<polygon points="1760,560 1777.5,570 1760,579" stroke="#111" stroke-width="1.5" fill="#fff" stroke-linejoin="miter"/>
<line x1="1780" y1="559.5" x2="1780" y2="581" stroke="#111" stroke-width="1.8"/>
<polyline points="1780,571.7 1797.5,571.7 1797.5,584.5" stroke="#111" stroke-width="1.9" fill="none" stroke-linejoin="miter"/>
<polyline points="1754.7,601.3 1754.7,584.5 1770,584.5 1770,601.3" stroke="#111" stroke-width="1.9" fill="none" stroke-linejoin="miter"/>
<line x1="1783.7" y1="584.5" x2="1783.7" y2="601.3" stroke="#111" stroke-width="1.9"/>
<polyline points="1764,591 1770,600 1776,591" stroke="#111" stroke-width="1.6" fill="none" stroke-linejoin="miter"/>
<line x1="1738" y1="601.3" x2="1800" y2="601.3" stroke="#111" stroke-width="1.9"/>
<line x1="1738" y1="614.7" x2="1800" y2="614.7" stroke="#111" stroke-width="1.9"/>
<line x1="1770" y1="614.7" x2="1770" y2="631.7" stroke="#111" stroke-width="1.9"/>
<rect x="1604" y="537.5" width="245" height="112.5" stroke="#0b24f2" stroke-width="3" fill="none"/>
<line x1="163" y1="599.5" x2="386" y2="599.5" stroke="#111" stroke-width="1.9"/>
<line x1="163" y1="599.5" x2="163" y2="966" stroke="#111" stroke-width="1.9"/>
<line x1="239.5" y1="599.5" x2="239.5" y2="966" stroke="#111" stroke-width="1.9"/>
<line x1="163" y1="966" x2="401" y2="966" stroke="#111" stroke-width="1.9"/>
<polygon points="163,699.5 152.75,714.7 173.25,714.7" stroke="#333" stroke-width="1.5" fill="#fff" stroke-linejoin="miter"/>
<line x1="151.25" y1="697.5" x2="174.75" y2="697.5" stroke="#111" stroke-width="2.0"/>
<polygon points="163,836.5 152.75,851.7 173.25,851.7" stroke="#333" stroke-width="1.5" fill="#fff" stroke-linejoin="miter"/>
<line x1="151.25" y1="834.5" x2="174.75" y2="834.5" stroke="#111" stroke-width="2.0"/>
<polygon points="239.5,699.5 229.25,714.7 249.75,714.7" stroke="#333" stroke-width="1.5" fill="#fff" stroke-linejoin="miter"/>
<line x1="227.75" y1="697.5" x2="251.25" y2="697.5" stroke="#111" stroke-width="2.0"/>
<polygon points="239.5,836.5 229.25,851.7 249.75,851.7" stroke="#333" stroke-width="1.5" fill="#fff" stroke-linejoin="miter"/>
<line x1="227.75" y1="834.5" x2="251.25" y2="834.5" stroke="#111" stroke-width="2.0"/>
<polyline points="165,695 178,679 204,679" stroke="#444" stroke-width="1.4" fill="none" stroke-linejoin="miter"/>
<polyline points="241.5,695 254,679 280,679" stroke="#444" stroke-width="1.4" fill="none" stroke-linejoin="miter"/>
<line x1="85" y1="753.75" x2="163" y2="753.75" stroke="#111" stroke-width="1.9"/>
<line x1="86" y1="780" x2="240" y2="780" stroke="#111" stroke-width="1.9"/>
<text x="182.5" y="744" font-size="17" fill="#1c1c38" text-anchor="start" font-weight="normal" textLength="81" lengthAdjust="spacingAndGlyphs" stroke="#1c1c38" stroke-width="0.15">Thyristors</text>
<text x="171" y="545.5" font-size="23" fill="#333" text-anchor="start" font-weight="normal" textLength="75" lengthAdjust="spacingAndGlyphs">50-60Hz</text>
<text x="257.5" y="545.5" font-size="23" fill="#333" text-anchor="start" font-weight="normal" textLength="80" lengthAdjust="spacingAndGlyphs">Vin PFC</text>
<text x="257.5" y="570" font-size="23" fill="#333" text-anchor="start" font-weight="normal" textLength="130" lengthAdjust="spacingAndGlyphs">85 to 265Vrms</text>
<text x="430" y="545.5" font-size="23" fill="#333" text-anchor="start" font-weight="normal" textLength="57" lengthAdjust="spacingAndGlyphs">Power</text>
<text x="430" y="569.7" font-size="23" fill="#333" text-anchor="start" font-weight="normal" textLength="53" lengthAdjust="spacingAndGlyphs">&lt;8kW</text>
<text x="430" y="593.9" font-size="23" fill="#333" text-anchor="start" font-weight="normal" textLength="144" lengthAdjust="spacingAndGlyphs">3.3KW - 6.6KW</text>
<text x="430" y="618.1" font-size="23" fill="#333" text-anchor="start" font-weight="normal" textLength="130" lengthAdjust="spacingAndGlyphs">50kHz-100kHz</text>
<text x="691" y="545.5" font-size="23" fill="#333" text-anchor="start" font-weight="normal" textLength="89" lengthAdjust="spacingAndGlyphs">Vout PFC</text>
<text x="691" y="569.7" font-size="23" fill="#333" text-anchor="start" font-weight="normal" textLength="69" lengthAdjust="spacingAndGlyphs">390Vdc</text>
<text x="863.75" y="545.5" font-size="23" fill="#333" text-anchor="start" font-weight="normal" textLength="102" lengthAdjust="spacingAndGlyphs">Vin DC-DC</text>
<text x="863.75" y="569.7" font-size="23" fill="#333" text-anchor="start" font-weight="normal" textLength="70" lengthAdjust="spacingAndGlyphs">390Vdc</text>
<text x="863.75" y="593.9" font-size="23" fill="#333" text-anchor="start" font-weight="normal" textLength="142" lengthAdjust="spacingAndGlyphs">3.3KW - 6.6KW</text>
<text x="863.75" y="618.1" font-size="23" fill="#333" text-anchor="start" font-weight="normal" textLength="129" lengthAdjust="spacingAndGlyphs">50kHz-150kHz</text>
<rect x="135.4" y="138.6" width="149.6" height="418.9" stroke="#e83326" stroke-width="9" stroke-linejoin="round" fill="none"/>
<rect x="449.5" y="125.5" width="277.5" height="399.5" stroke="#e83326" stroke-width="9" stroke-linejoin="round" fill="none"/>
<rect x="827.5" y="137" width="287.0" height="388" stroke="#e83326" stroke-width="9" stroke-linejoin="round" fill="none"/>
<rect x="1317" y="105.5" width="187" height="418.5" stroke="#e83326" stroke-width="9" stroke-linejoin="round" fill="none"/>
<rect x="1317" y="577" width="187" height="388" stroke="#e83326" stroke-width="9" stroke-linejoin="round" fill="none"/>
<text x="96" y="83" font-size="36" fill="#e83326" text-anchor="start" font-weight="normal" textLength="234" lengthAdjust="spacingAndGlyphs" stroke="#e83326" stroke-width="0.35">Input Rectifier</text>
<text x="161" y="122" font-size="36" fill="#e83326" text-anchor="start" font-weight="normal" textLength="107" lengthAdjust="spacingAndGlyphs" stroke="#e83326" stroke-width="0.35">Bridge</text>
<text x="1305" y="85" font-size="36" fill="#e83326" text-anchor="start" font-weight="normal" textLength="250" lengthAdjust="spacingAndGlyphs" stroke="#e83326" stroke-width="0.35">Rectifier Bridge</text>
<text x="430" y="673.75" font-size="36" fill="#e83326" text-anchor="start" font-weight="normal" textLength="254" lengthAdjust="spacingAndGlyphs" stroke="#e83326" stroke-width="0.35">PFC Interleaved</text>
<text x="474.5" y="712.5" font-size="36" fill="#e83326" text-anchor="start" font-weight="normal" textLength="165" lengthAdjust="spacingAndGlyphs" stroke="#e83326" stroke-width="0.35">(2 phases)</text>
<text x="845" y="682.5" font-size="36" fill="#e83326" text-anchor="start" font-weight="normal" textLength="205" lengthAdjust="spacingAndGlyphs" stroke="#e83326" stroke-width="0.35">Full Bridge/</text>
<text x="847.5" y="727.5" font-size="36" fill="#e83326" text-anchor="start" font-weight="normal" textLength="199" lengthAdjust="spacingAndGlyphs" stroke="#e83326" stroke-width="0.35">Half Bridge</text>
<text x="887" y="770" font-size="36" fill="#e83326" text-anchor="start" font-weight="normal" textLength="120" lengthAdjust="spacingAndGlyphs" stroke="#e83326" stroke-width="0.35">DC-DC</text>
<text x="1325" y="1004.5" font-size="36" fill="#e83326" text-anchor="start" font-weight="normal" textLength="250" lengthAdjust="spacingAndGlyphs" stroke="#e83326" stroke-width="0.35">Rectifier Bridge</text>
</g>
<rect x="50.7" y="37.9" width="1843" height="984" stroke="#0b24f2" stroke-width="2.6" fill="none"/>
</svg></body></html>
